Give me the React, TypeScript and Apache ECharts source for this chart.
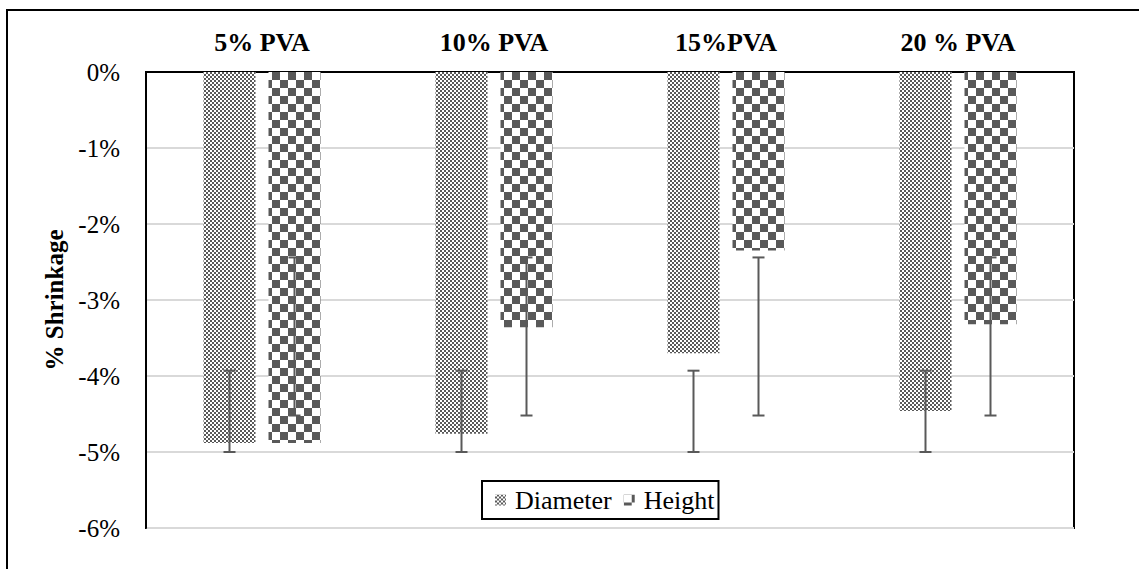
import React, { useEffect, useRef } from "react";
import * as echarts from "echarts";

const categories = ["5% PVA", "10% PVA", "15%PVA", "20 % PVA"];
const diameter = [-4.88, -4.76, -3.7, -4.46];
const height = [-4.88, -3.36, -2.35, -3.32];
// error bar ranges [top, bottom]
const diameterErrTop = [-3.93, -3.93, -3.93, -3.93];
const diameterErrBottom = [-5.0, -5.0, -5.0, -5.0];
const heightErrTop = [-2.44, -2.44, -2.44, -2.44];
const heightErrBottom = [-4.52, -4.52, -4.52, -4.52];
const yTicks = { min: -6, max: 0, interval: 1 };

const FONT = "Liberation Serif";
const DARK = "#595959";
const BAR_WIDTH = 52;
const BAR_GAP = 0.25;

function errorSeries(name: string, top: number[], bottom: number[], side: number) {
  const offset = side * (BAR_WIDTH + BAR_WIDTH * BAR_GAP) / 2;
  return {
    type: "custom",
    name: name + " err",
    z: 10,
    silent: true,
    data: top.map((t, i) => [i, t, bottom[i]]),
    renderItem: (params: any, api: any) => {
      const a = api.coord([api.value(0), api.value(1)]);
      const b = api.coord([api.value(0), api.value(2)]);
      const x = a[0] + offset;
      const cap = 6;
      const st = { stroke: DARK, lineWidth: 2 };
      return {
        type: "group",
        children: [
          { type: "line", shape: { x1: x, y1: a[1], x2: x, y2: b[1] }, style: st },
          { type: "line", shape: { x1: x - cap, y1: a[1], x2: x + cap, y2: a[1] }, style: st },
          { type: "line", shape: { x1: x - cap, y1: b[1], x2: x + cap, y2: b[1] }, style: st },
        ],
      };
    },
  };
}

export default function App() {
  const ref = useRef<HTMLDivElement>(null);
  useEffect(() => {
    if (!ref.current) return;
    const chart = echarts.init(ref.current, undefined, { renderer: "svg" });
    chart.setOption({
      animation: false,
      backgroundColor: "#fff",
      graphic: [
        {
          type: "rect",
          shape: { x: 7, y: 10, width: 1200, height: 700 },
          style: { fill: "none", stroke: "#000", lineWidth: 2 },
          silent: true,
        },
      ],
      grid: {
        left: 146,
        right: 65,
        top: 72,
        bottom: 41,
        show: true,
        borderColor: "#000",
        borderWidth: 2,
      },
      legend: {
        data: ["Diameter", "Height"],
        left: 482,
        top: 481,
        orient: "horizontal",
        borderColor: "#000",
        borderWidth: 2,
        padding: [6, 4, 6, 13],
        itemGap: 12,
        itemWidth: 11,
        itemHeight: 11,
        icon: "rect",
        backgroundColor: "#fff",
        textStyle: { fontFamily: FONT, fontSize: 26, color: "#000", padding: [0, 0, 0, 4] },
      },
      xAxis: {
        type: "category",
        position: "top",
        data: categories,
        axisLine: { show: true, lineStyle: { color: "#000", width: 2 } },
        axisTick: { show: false },
        axisLabel: {
          fontFamily: FONT,
          fontSize: 26,
          fontWeight: "bold",
          color: "#000",
          margin: 17,
        },
      },
      yAxis: {
        type: "value",
        min: yTicks.min,
        max: yTicks.max,
        interval: yTicks.interval,
        name: "% Shrinkage",
        nameLocation: "middle",
        nameRotate: 90,
        nameGap: 74,
        nameTextStyle: { fontFamily: FONT, fontSize: 25, fontWeight: "bold", color: "#000" },
        axisLine: { show: true, lineStyle: { color: "#000", width: 2 } },
        axisTick: { show: false },
        splitLine: { show: true, lineStyle: { color: "#d9d9d9", width: 2 } },
        axisLabel: {
          fontFamily: FONT,
          fontSize: 25,
          color: "#000",
          margin: 26,
          formatter: (v: number) => `${v}%`,
        },
      },
      series: [
        {
          name: "Diameter",
          type: "bar",
          data: diameter,
          barWidth: BAR_WIDTH,
          barGap: `${BAR_GAP * 100}%`,
          itemStyle: {
            color: "#ffffff",
            decal: {
              symbol: "rect",
              symbolSize: 1,
              color: DARK,
              dashArrayX: [[2, 2], [0, 2, 2, 0]],
              dashArrayY: [2, 0],
              rotation: 0,
            },
          },
        },
        {
          name: "Height",
          type: "bar",
          data: height,
          barWidth: BAR_WIDTH,
          barGap: `${BAR_GAP * 100}%`,
          itemStyle: {
            color: "#ffffff",
            decal: {
              symbol: "rect",
              symbolSize: 1,
              color: DARK,
              dashArrayX: [[8, 8], [0, 8, 8, 0]],
              dashArrayY: [8, 0],
              rotation: 0,
            },
          },
        },
        errorSeries("Diameter", diameterErrTop, diameterErrBottom, -1),
        errorSeries("Height", heightErrTop, heightErrBottom, 1),
      ],
    });
    return () => chart.dispose();
  }, []);
  return (
    <div
      ref={ref}
      style={{ position: "absolute", left: 0, top: 0, width: 1139, height: 569 }}
    />
  );
}
